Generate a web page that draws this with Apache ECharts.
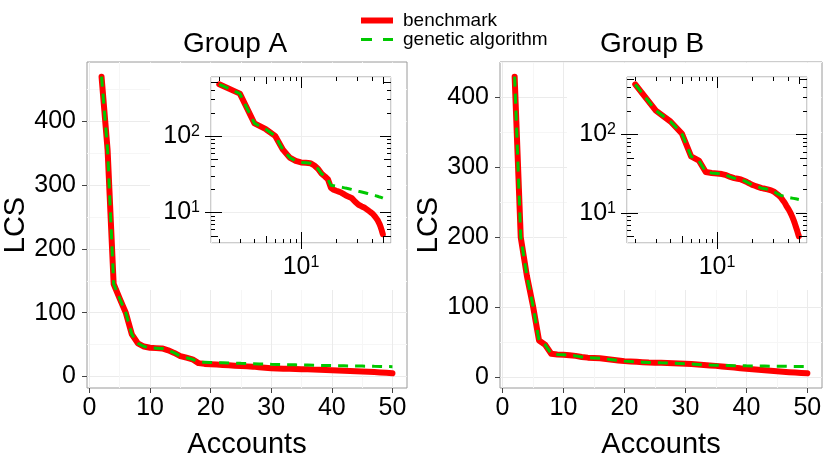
<!DOCTYPE html>
<html>
<head>
<meta charset="utf-8">
<script src="https://cdn.jsdelivr.net/npm/echarts@6.0.0/dist/echarts.min.js"></script>
<style>
  html, body { margin: 0; padding: 0; background: #fff; }
  #chart { width: 830px; height: 464px; }
</style>
</head>
<body>
<div id="chart"></div>
<script>
// number of accounts (x) shared by both groups
var accounts = [2, 3, 4, 5, 6, 7, 8, 9, 10, 11, 12, 13, 14, 15, 16, 17, 18, 19, 20, 21, 22, 23, 24, 25,
  26, 27, 28, 29, 30, 31, 32, 33, 34, 35, 36, 37, 38, 39, 40, 41, 42, 43, 44, 45, 46, 47, 48, 49, 50];

// Group A
var benchA = [470, 355, 145, 122, 100, 66, 52, 47, 45, 44.5, 44, 41, 37, 32, 29.5, 27, 21, 19.8, 19.2, 18.7,
  18.2, 17.5, 16.8, 16.3, 15.9, 15.5, 14.6, 13.8, 13.1, 12.6, 12.3, 12.0, 11.8, 11.5, 11.2, 10.8, 10.5,
  10.2, 9.9, 9.6, 9.2, 8.8, 8.4, 8.0, 7.6, 7.0, 6.4, 5.8, 5.2];
var gaA = [470, 355, 145, 122, 100, 66, 52, 47, 45, 44.5, 44, 41, 37, 32, 29.5, 27, 22.6, 22.3, 22.0, 21.7,
  21.4, 21.1, 20.8, 20.6, 20.3, 20.0, 19.7, 19.4, 19.1, 18.9, 18.7, 18.5, 18.3, 18.1, 17.9, 17.7, 17.5,
  17.3, 17.1, 16.9, 16.8, 16.6, 16.5, 16.3, 16.1, 15.9, 15.8, 15.6, 15.4];

// Group B
var benchB = [430, 200, 145, 102, 52, 46, 33, 32, 31.5, 31, 30, 28.5, 27.5, 27, 26.5, 25.5, 24.5, 23.5, 22.5,
  22, 21.5, 21, 20.5, 20.3, 20, 19.8, 19.5, 19.2, 18.8, 18.3, 17.6, 17.0, 16.4, 15.7, 14.9, 14.0, 13.2,
  12.3, 11.6, 10.9, 10.2, 9.5, 8.8, 8.1, 7.4, 6.7, 6.1, 5.5, 5.0];
var gaB = [430, 200, 145, 102, 52, 46, 33, 32, 31.5, 31, 30, 28.5, 27.5, 27, 26.5, 25.5, 24.5, 23.5, 22.5,
  22, 21.5, 21, 20.5, 20.3, 20, 19.8, 19.5, 19.2, 18.8, 18.3, 17.8, 17.3, 16.9, 16.6, 16.4, 16.2, 16.0,
  15.9, 15.7, 15.6, 15.5, 15.4, 15.3, 15.2, 15.1, 15.0, 14.9, 14.8, 14.7];

// ticks
var mainXTicks = [0, 10, 20, 30, 40, 50];
var mainYTicks = [0, 100, 200, 300, 400];
var insetXLabels = [10];
var insetYLabels = [10, 100];
var insetXTicks = [2, 3, 4, 5, 6, 7, 8, 9, 10, 20, 30, 40, 50];
var insetYTicks = [5, 6, 7, 8, 9, 10, 20, 30, 40, 50, 60, 70, 80, 90, 100, 200, 300, 400, 500];

var RED = '#ff0000';
var GREEN = '#00c800';
var FONT = '"Liberation Sans", Arial, Helvetica, sans-serif';

function pairs(xs, ys) {
  return xs.map(function (x, i) { return [x, ys[i]]; });
}

function isPow(v, base) {
  var e = Math.log10(v / base);
  return Math.abs(e - Math.round(e)) < 1e-9;
}

// length of a log tick drawn inside the inset (long / mid / short)
function tickLen(v) {
  if (isPow(v, 1)) return 11;
  if (isPow(v, 5)) return 7;
  return 4;
}

function supLabel(v) {
  return '{b|10}{s|' + Math.round(Math.log10(v)) + '}';
}

var myChart = echarts.init(document.getElementById('chart'));

function mainX(idx) {
  return {
    type: 'value', gridIndex: idx, min: -0.4, max: 52.4, splitNumber: 5,
    name: 'Accounts', nameLocation: 'middle', nameGap: 42,
    nameTextStyle: { fontSize: 29, color: '#000' },
    axisLine: { show: false, onZero: false },
    axisTick: { show: true, length: 5, customValues: mainXTicks, lineStyle: { color: '#444' } },
    axisLabel: { customValues: mainXTicks, fontSize: 25, color: '#000', margin: 8 },
    splitLine: { show: true, lineStyle: { color: '#ebebeb' } },
    minorTick: { show: false, splitNumber: 2 },
    minorSplitLine: { show: true, lineStyle: { color: '#f6f6f6' } }
  };
}

function mainY(idx, min, max) {
  return {
    type: 'value', gridIndex: idx, min: min, max: max,
    name: 'LCS', nameLocation: 'middle', nameGap: 57,
    nameTextStyle: { fontSize: 29, color: '#000' },
    axisLine: { show: false, onZero: false },
    axisTick: { show: true, length: 5, customValues: mainYTicks, lineStyle: { color: '#444' } },
    axisLabel: { customValues: mainYTicks, fontSize: 25, color: '#000', margin: 11 },
    splitLine: { show: true, lineStyle: { color: '#ebebeb' } },
    minorTick: { show: false, splitNumber: 2 },
    minorSplitLine: { show: true, lineStyle: { color: '#f6f6f6' } }
  };
}

var richSup = {
  b: { fontSize: 25, color: '#000', fontFamily: FONT },
  s: { fontSize: 16, color: '#000', fontFamily: FONT, verticalAlign: 'top' }
};

function insetX(idx) {
  return {
    type: 'log', logBase: 10, gridIndex: idx, min: 1.7, max: 58.7, z: 3,
    axisLine: { show: false, onZero: false },
    axisTick: { show: false },
    axisLabel: { customValues: insetXLabels, formatter: supLabel, rich: richSup, margin: 12 },
    splitLine: { show: true, lineStyle: { color: '#eeeeee' } }
  };
}

function insetY(idx, min, max) {
  return {
    type: 'log', logBase: 10, gridIndex: idx, min: min, max: max, z: 3,
    axisLine: { show: false, onZero: false },
    axisTick: { show: false },
    axisLabel: { customValues: insetYLabels, formatter: supLabel, rich: richSup, margin: 11 },
    splitLine: { show: true, lineStyle: { color: '#eeeeee' } }
  };
}

function line(name, idx, ys, dashed, z) {
  return {
    name: name, type: 'line', xAxisIndex: idx, yAxisIndex: idx, z: z,
    data: pairs(accounts, ys), symbol: 'none', animation: false,
    lineStyle: dashed
      ? { color: GREEN, width: 3, type: [10, 7], cap: 'butt' }
      : { color: RED, width: 6, cap: 'round', join: 'round' },
    itemStyle: { color: dashed ? GREEN : RED }
  };
}

function segment(x1, y1, x2, y2) {
  return { type: 'line', shape: { x1: x1, y1: y1, x2: x2, y2: y2 },
    style: { stroke: '#000', lineWidth: 1 } };
}

// log ticks on all four sides of an inset, positioned by the axis scales
function logTicks(idx, values, dim) {
  return {
    type: 'custom', xAxisIndex: idx, yAxisIndex: idx, z: 8, clip: false, silent: true,
    animation: false, legendHoverLink: false,
    data: values.map(function (v) { return dim === 'x' ? [v, 10] : [10, v]; }),
    renderItem: function (params, api) {
      var v = api.value(dim === 'x' ? 0 : 1);
      var p = api.coord([api.value(0), api.value(1)]);
      var cs = params.coordSys;
      var L = tickLen(v);
      var major = L === 11;
      var kids = [];
      if (dim === 'x') {
        var x = Math.round(p[0]) + 0.5;
        if (x < cs.x || x > cs.x + cs.width) return null;
        kids.push(segment(x, cs.y, x, cs.y + L));
        kids.push(segment(x, cs.y + cs.height - L, x, cs.y + cs.height + (major ? 6 : 0)));
      } else {
        var y = Math.round(p[1]) + 0.5;
        if (y < cs.y || y > cs.y + cs.height) return null;
        kids.push(segment(cs.x - (major ? 6 : 0), y, cs.x + L, y));
        kids.push(segment(cs.x + cs.width - L, y, cs.x + cs.width, y));
      }
      return { type: 'group', children: kids };
    }
  };
}

var option = {
  backgroundColor: '#fff',
  animation: false,
  textStyle: { fontFamily: FONT, color: '#000' },
  title: [
    { text: 'Group A', left: 183, top: 30, padding: 0,
      textStyle: { fontSize: 28, fontWeight: 'normal', color: '#000' } },
    { text: 'Group B', left: 600, top: 30, padding: 0,
      textStyle: { fontSize: 28, fontWeight: 'normal', color: '#000' } }
  ],
  legend: {
    data: [
      { name: 'benchmark', icon: 'path://M0,0M32,14M0,4H32V10H0Z' },
      { name: 'genetic algorithm', icon: 'path://M0,0M32,14M0,5.5H11V8.5H0ZM22,5.5H32V8.5H22Z' }
    ],
    orient: 'vertical', left: 361, top: 11, itemWidth: 32, itemHeight: 14, itemGap: 0,
    padding: 0, selectedMode: false,
    itemStyle: { borderWidth: 0 },
    textStyle: { fontSize: 19, color: '#000', padding: [0, 0, 0, 5] }
  },
  grid: [
    { left: 84, top: 62, width: 323, height: 326, show: true, backgroundColor: '#fff',
      borderColor: '#9a9a9a', borderWidth: 1, containLabel: false },
    { left: 500, top: 62, width: 322, height: 326, show: true, backgroundColor: '#fff',
      borderColor: '#9a9a9a', borderWidth: 1, containLabel: false },
    { left: 211, top: 77, width: 180, height: 166, show: true, backgroundColor: '#fff',
      borderColor: '#9a9a9a', borderWidth: 1, z: 2, containLabel: false },
    { left: 627, top: 77, width: 180, height: 166, show: true, backgroundColor: '#fff',
      borderColor: '#9a9a9a', borderWidth: 1, z: 2, containLabel: false }
  ],
  graphic: [
    { type: 'rect', z: 1, silent: true, shape: { x: 150, y: 63, width: 256, height: 227 },
      style: { fill: '#fff' } },
    { type: 'rect', z: 1, silent: true, shape: { x: 567, y: 63, width: 254, height: 227 },
      style: { fill: '#fff' } }
  ],
  xAxis: [mainX(0), mainX(1), insetX(2), insetX(3)],
  yAxis: [mainY(0, -18, 493), mainY(1, -16, 451), insetY(2, 4.0, 585), insetY(3, 4.1, 535)],
  series: [
    line('benchmark', 0, benchA, false, 3),
    line('genetic algorithm', 0, gaA, true, 4),
    line('benchmark', 1, benchB, false, 3),
    line('genetic algorithm', 1, gaB, true, 4),
    line('benchmark', 2, benchA, false, 5),
    line('genetic algorithm', 2, gaA, true, 6),
    line('benchmark', 3, benchB, false, 5),
    line('genetic algorithm', 3, gaB, true, 6),
    logTicks(2, insetXTicks, 'x'),
    logTicks(2, insetYTicks, 'y'),
    logTicks(3, insetXTicks, 'x'),
    logTicks(3, insetYTicks, 'y')
  ]
};
myChart.setOption(option);
</script>
</body>
</html>
